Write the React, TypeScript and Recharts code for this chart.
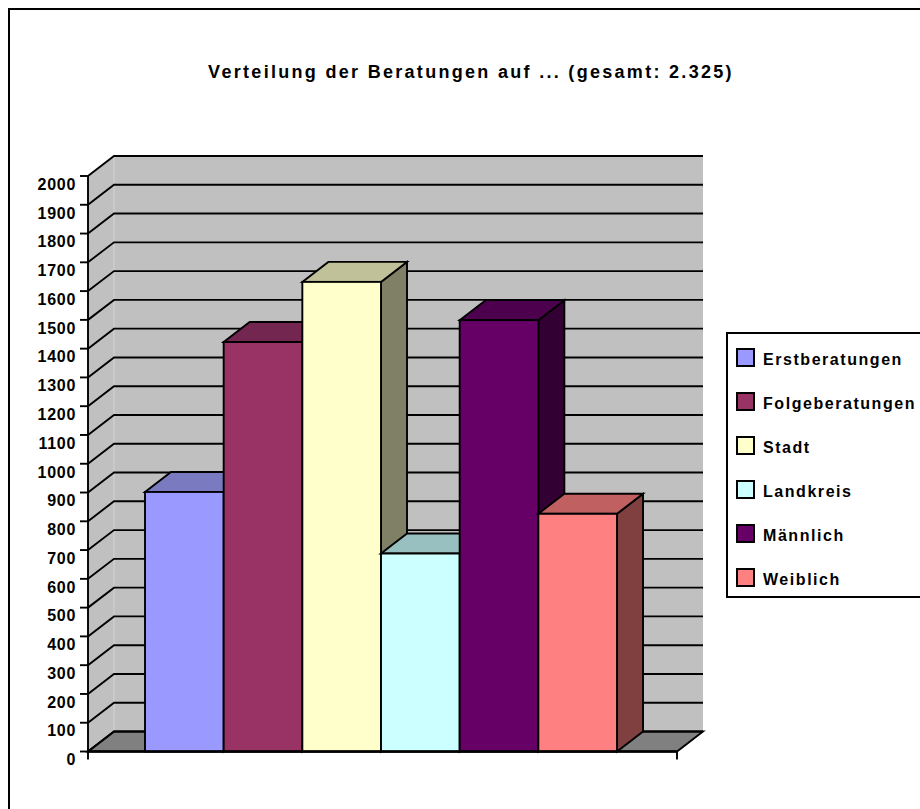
import React from "react";
import { BarChart, Bar, XAxis, YAxis, CartesianGrid, ReferenceArea, Legend } from "recharts";

const categories = ["Beratungen"];
const seriesNames = ["Erstberatungen", "Folgeberatungen", "Stadt", "Landkreis", "Männlich", "Weiblich"];
const seriesValues = [902, 1423, 1632, 688, 1499, 826];
const seriesColors = ["#9999ff", "#993366", "#ffffcc", "#ccffff", "#660066", "#ff8080"];
const topColors = ["#7a7ac0", "#732650", "#c0c099", "#99c0c0", "#4d004d", "#c06060"];
const sideColors = ["#4d4d80", "#4d1a33", "#808066", "#668080", "#330033", "#804040"];
const yTicks = [0,100,200,300,400,500,600,700,800,900,1000,1100,1200,1300,1400,1500,1600,1700,1800,1900,2000];
const titleText = "Verteilung der Beratungen auf ... (gesamt: 2.325)";

const DX = 26;
const DY = -20;
const PAD_RIGHT = 2;
const FONT = '"Liberation Sans", Arial, sans-serif';
const LINE = 1.9;

const row: Record<string, string | number> = { category: categories[0] };
seriesNames.forEach((n, i) => { row[n] = seriesValues[i]; });
const data = [row];

const Walls = (p: any) => {
  const { x, y, width, height } = p;
  const r = x + width + PAD_RIGHT;
  const b = y + height;
  return (
    <g>
      <polygon points={`${x},${y} ${x + DX},${y + DY} ${r + DX},${y + DY} ${r + DX},${b + DY} ${x + DX},${b + DY} ${x},${b}`} fill="#c0c0c0" />
      <line x1={x + DX} y1={y + DY} x2={x + DX} y2={b + DY} stroke="#d4d4d4" strokeWidth={1} />
      <polygon points={`${x},${b} ${x + DX},${b + DY} ${r + DX},${b + DY} ${r},${b}`} fill="#808080" stroke="#000" strokeWidth={LINE} />
      <line x1={x} y1={b} x2={x} y2={b + 8} stroke="#000" strokeWidth={LINE} />
      <line x1={r} y1={b} x2={r} y2={b + 8} stroke="#000" strokeWidth={LINE} />
    </g>
  );
};

const gridLine = (p: any) => (
  <polyline
    key={p.key}
    points={`${p.x1},${p.y1} ${p.x1 + DX},${p.y1 + DY} ${p.x2 + DX},${p.y2 + DY}`}
    fill="none"
    stroke="#000"
    strokeWidth={LINE}
  />
);

const makeBar = (index: number) => (p: any) => {
  const { x, y, width, height } = p;
  const r = x + width;
  const b = y + height;
  return (
    <g stroke="#000" strokeWidth={LINE} strokeLinejoin="miter">
      <polygon points={`${r},${y} ${r + DX},${y + DY} ${r + DX},${b + DY} ${r},${b}`} fill={sideColors[index]} />
      <polygon points={`${x},${y} ${x + DX},${y + DY} ${r + DX},${y + DY} ${r},${y}`} fill={topColors[index]} />
      <rect x={x} y={y} width={width} height={height} fill={seriesColors[index]} />
    </g>
  );
};

const yTick = (p: any) => (
  <text x={p.x} y={p.y + 8} dy="0.36em" textAnchor="end" fontFamily={FONT} fontWeight="bold" fontSize={16} letterSpacing={0.7} fill="#000">
    {p.payload.value}
  </text>
);

const LegendBox = () => (
  <div style={{ position: "absolute", left: 718, top: 324, width: 200, height: 266, boxSizing: "border-box", border: "solid #000", borderWidth: "2px 0 2px 2px", background: "#fff" }}>
    {seriesNames.map((n, i) => (
      <div key={n} style={{ position: "absolute", left: 8, top: 14 + i * 44, height: 19, display: "flex", alignItems: "center", whiteSpace: "nowrap" }}>
        <span style={{ display: "inline-block", width: 19, height: 19, boxSizing: "border-box", border: "2px solid #000", background: seriesColors[i] }} />
        <span style={{ marginLeft: 8, position: "relative", top: 2, fontFamily: FONT, fontWeight: "bold", fontSize: 16, letterSpacing: 1.55, color: "#000" }}>{n}</span>
      </div>
    ))}
  </div>
);

export default function App() {
  return (
    <div style={{ position: "fixed", left: 8, top: 8, width: 912, height: 801, overflow: "hidden", boxSizing: "border-box", borderTop: "2px solid #000", borderLeft: "2px solid #000", background: "#fff" }}>
      <div style={{ position: "absolute", left: -2, top: 52, width: 926, textAlign: "center", fontFamily: FONT, fontWeight: "bold", fontSize: 18, letterSpacing: 2.3, color: "#000", whiteSpace: "nowrap" }}>
        {titleText}
      </div>
      <div style={{ position: "absolute", left: -2, top: -2 }}>
        <BarChart width={912} height={801} data={data} barGap={0} barSize={78.67} margin={{ top: 168, right: 243, bottom: 27.5, left: 8 }}>
          <ReferenceArea y1={0} y2={2000} shape={Walls} fill="#c0c0c0" zIndex={-200} isFront={false} />
          <CartesianGrid vertical={false} horizontal={gridLine} />
          <XAxis dataKey="category" height={30} padding={{ left: 0, right: PAD_RIGHT }} tick={false} tickLine={false} axisLine={{ stroke: "#000", strokeWidth: 2.5 }} />
          <YAxis type="number" domain={[0, 2000]} ticks={yTicks} interval={0} width={72} tickSize={8} tickMargin={4} tick={yTick} tickLine={{ stroke: "#000", strokeWidth: LINE }} axisLine={{ stroke: "#000", strokeWidth: LINE }} />
          <Legend content={() => <LegendBox />} wrapperStyle={{ position: "absolute", left: 0, top: 0, width: 0, height: 0 }} />
          {seriesNames.map((n, i) => (
            <Bar key={n} dataKey={n} fill={seriesColors[i]} shape={makeBar(i)} isAnimationActive={false} />
          ))}
        </BarChart>
      </div>
    </div>
  );
}
